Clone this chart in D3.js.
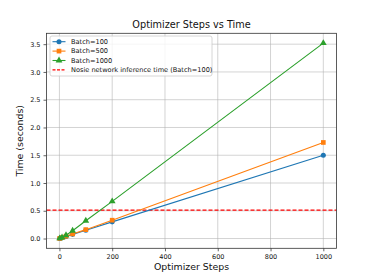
<!DOCTYPE html>
<html>
<head>
<meta charset="utf-8">
<script src="https://cdn.jsdelivr.net/npm/d3@7"></script>
<style>
  body { margin: 0; background: #fff; }
  text { font-family: "DejaVu Sans", sans-serif; }
</style>
</head>
<body>
<div id="chart"></div>
<script>
const steps = [1, 10, 25, 50, 100, 200, 1000];
const batch100 = [0.0015, 0.015, 0.0375, 0.075, 0.15, 0.30, 1.50];
const batch500 = [0.002, 0.017, 0.042, 0.083, 0.16, 0.33, 1.73];
const batch1000 = [0.004, 0.02, 0.06, 0.14, 0.32, 0.67, 3.52];
const inferenceTime = 0.513;
const xTicks = [0, 200, 400, 600, 800, 1000];
const yTicks = [0.0, 0.5, 1.0, 1.5, 2.0, 2.5, 3.0, 3.5];

const series = [
  { name: 'Batch=100', values: batch100, color: '#1f77b4', marker: 'circle' },
  { name: 'Batch=500', values: batch500, color: '#ff7f0e', marker: 'square' },
  { name: 'Batch=1000', values: batch1000, color: '#2ca02c', marker: 'triangle' }
];

const width = 374, height = 280;
const margin = { left: 46.5, right: 37.5, top: 33.3, bottom: 31.7 };

const svg = d3.select('#chart').append('svg')
  .attr('width', width)
  .attr('height', height);

const x = d3.scaleLinear().domain([-48.95, 1049.95]).range([margin.left, width - margin.right]);
const y = d3.scaleLinear().domain([-0.176, 3.696]).range([height - margin.bottom, margin.top]);

const plot = svg.append('g');

// grid
plot.selectAll('.gx').data(xTicks).enter().append('line')
  .attr('x1', d => x(d)).attr('x2', d => x(d))
  .attr('y1', y.range()[0]).attr('y2', y.range()[1])
  .attr('stroke', '#b0b0b0').attr('stroke-opacity', 0.7).attr('stroke-width', 0.8);
plot.selectAll('.gy').data(yTicks).enter().append('line')
  .attr('y1', d => y(d)).attr('y2', d => y(d))
  .attr('x1', x.range()[0]).attr('x2', x.range()[1])
  .attr('stroke', '#b0b0b0').attr('stroke-opacity', 0.7).attr('stroke-width', 0.8);

// inference line
plot.append('line')
  .attr('x1', x.range()[0]).attr('x2', x.range()[1])
  .attr('y1', y(inferenceTime)).attr('y2', y(inferenceTime))
  .attr('stroke', 'red').attr('stroke-width', 1.3)
  .attr('stroke-dasharray', '4,2');

const line = d3.line().x(d => x(d[0])).y(d => y(d[1]));
const symbols = { circle: d3.symbolCircle, square: d3.symbolSquare, triangle: d3.symbolTriangle };
const markerSize = { circle: 20, square: 22, triangle: 20 };

series.forEach(s => {
  const pts = steps.map((st, i) => [st, s.values[i]]);
  plot.append('path').datum(pts)
    .attr('d', line)
    .attr('fill', 'none')
    .attr('stroke', s.color)
    .attr('stroke-width', 1.1);
  plot.selectAll(null).data(pts).enter().append('path')
    .attr('d', d3.symbol().type(symbols[s.marker]).size(markerSize[s.marker]))
    .attr('transform', d => `translate(${x(d[0])},${y(d[1])})`)
    .attr('fill', s.color);
});

// axes
const xAxis = svg.append('g')
  .attr('transform', `translate(0,${height - margin.bottom})`)
  .call(d3.axisBottom(x).tickValues(xTicks).tickFormat(d3.format('d')).tickSize(3).tickPadding(3));
const yAxis = svg.append('g')
  .attr('transform', `translate(${margin.left},0)`)
  .call(d3.axisLeft(y).tickValues(yTicks).tickFormat(d3.format('.1f')).tickSize(3).tickPadding(3));
[xAxis, yAxis].forEach(a => {
  a.select('.domain').remove();
  a.selectAll('text').style('font-size', '6.5px').attr('fill', '#111');
  a.selectAll('line').attr('stroke', '#222').attr('stroke-width', 0.7);
});

// frame
svg.append('rect')
  .attr('x', margin.left).attr('y', margin.top)
  .attr('width', width - margin.left - margin.right)
  .attr('height', height - margin.top - margin.bottom)
  .attr('fill', 'none').attr('stroke', '#333').attr('stroke-width', 0.8);

// titles
svg.append('text')
  .attr('x', (margin.left + width - margin.right) / 2).attr('y', 28)
  .attr('text-anchor', 'middle').style('font-size', '9.7px').attr('fill', '#111')
  .text('Optimizer Steps vs Time');
svg.append('text')
  .attr('x', (margin.left + width - margin.right) / 2).attr('y', 270)
  .attr('text-anchor', 'middle').style('font-size', '9.4px').attr('fill', '#111')
  .text('Optimizer Steps');
svg.append('text')
  .attr('transform', `translate(23,${(margin.top + height - margin.bottom) / 2}) rotate(-90)`)
  .attr('text-anchor', 'middle').style('font-size', '9.4px').attr('fill', '#111')
  .text('Time (seconds)');

// legend
const legend = svg.append('g').attr('transform', 'translate(50,36)');
legend.append('rect')
  .attr('width', 162).attr('height', 40).attr('rx', 2)
  .attr('fill', '#fff').attr('fill-opacity', 0.8)
  .attr('stroke', '#ccc').attr('stroke-width', 0.8);
const legendItems = series.map(s => ({ name: s.name, color: s.color, marker: s.marker, dash: null }))
  .concat([{ name: 'Nosie network inference time (Batch=100)', color: 'red', marker: null, dash: '3,1.5' }]);
legendItems.forEach((d, i) => {
  const row = legend.append('g').attr('transform', `translate(0,${5.7 + i * 9.4})`);
  row.append('line')
    .attr('x1', 2.5).attr('x2', 15.5)
    .attr('stroke', d.color).attr('stroke-width', 1.1)
    .attr('stroke-dasharray', d.dash);
  if (d.marker) {
    row.append('path')
      .attr('d', d3.symbol().type(symbols[d.marker]).size(markerSize[d.marker]))
      .attr('transform', 'translate(9,0)')
      .attr('fill', d.color);
  }
  row.append('text')
    .attr('x', 21).attr('y', 2.3)
    .style('font-size', '6.6px').attr('fill', '#111')
    .text(d.name);
});
</script>
</body>
</html>
